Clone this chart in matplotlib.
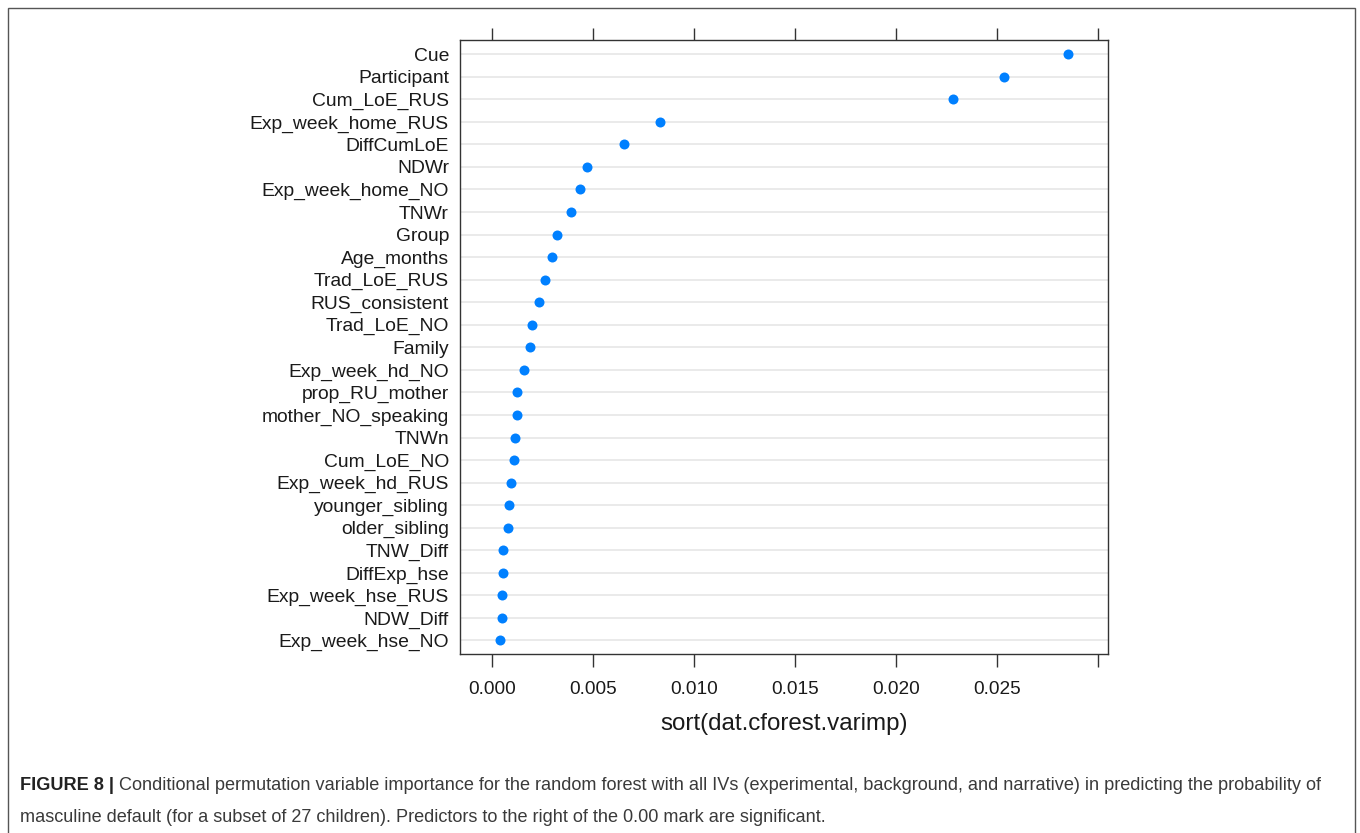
import matplotlib
matplotlib.use("Agg")
import matplotlib.pyplot as plt
from matplotlib.patches import Rectangle

plt.rcParams['font.family'] = ['Liberation Sans', 'DejaVu Sans']

variables = ["Cue", "Participant", "Cum_LoE_RUS", "Exp_week_home_RUS", "DiffCumLoE",
             "NDWr", "Exp_week_home_NO", "TNWr", "Group", "Age_months",
             "Trad_LoE_RUS", "RUS_consistent", "Trad_LoE_NO", "Family", "Exp_week_hd_NO",
             "prop_RU_mother", "mother_NO_speaking", "TNWn", "Cum_LoE_NO", "Exp_week_hd_RUS",
             "younger_sibling", "older_sibling", "TNW_Diff", "DiffExp_hse", "Exp_week_hse_RUS",
             "NDW_Diff", "Exp_week_hse_NO"]
importance = [0.02855, 0.02536, 0.02286, 0.00833, 0.00656,
              0.00472, 0.00439, 0.00392, 0.00321, 0.00297,
              0.00266, 0.00234, 0.00200, 0.00192, 0.00160,
              0.00126, 0.00125, 0.00114, 0.00112, 0.00096,
              0.00087, 0.00082, 0.00057, 0.00054, 0.00052,
              0.00052, 0.00041]
xticks = [0.000, 0.005, 0.010, 0.015, 0.020, 0.025, 0.030]
xticklabels = ["0.000", "0.005", "0.010", "0.015", "0.020", "0.025", ""]
xlabel = "sort(dat.cforest.varimp)"
caption_bold = "FIGURE 8 | "
caption_line1 = ("Conditional permutation variable importance for the random forest with all IVs "
                 "(experimental, background, and narrative) in predicting the probability of")
caption_line2 = ("masculine default (for a subset of 27 children). Predictors to the right of the "
                 "0.00 mark are significant.")

W, H = 1360, 833
fig = plt.figure(figsize=(W / 100, H / 100), dpi=100)
fig.patch.set_facecolor("white")

# outer frame
fig.add_artist(Rectangle((7.5 / W, -0.02), (1355 - 7.5) / W, 1 - 8 / H + 0.02,
                         transform=fig.transFigure, fill=False,
                         edgecolor="#555555", linewidth=1.0, clip_on=False))

L, R, T, B = 460, 1108, 40, 654
ax = fig.add_axes([L / W, 1 - B / H, (R - L) / W, (B - T) / H])

ypos = list(range(len(variables)))
for y in ypos:
    ax.axhline(y, color="#e8e8e8", linewidth=1.3, zorder=1)
ax.plot(importance, ypos, linestyle="none", marker="o", markersize=7.2,
        color="#0080ff", markeredgewidth=0, zorder=3)

ax.set_xlim(-0.00157, 0.03051)
ax.set_ylim(26.6, -0.63)
ax.set_yticks(ypos)
ax.set_yticklabels(variables, fontsize=13.9, color="#1a1a1a")
ax.tick_params(axis="y", length=0, pad=8)
ax.set_xticks(xticks)
ax.set_xticklabels(xticklabels, fontsize=13.7, color="#1a1a1a")
ax.tick_params(axis="x", direction="out", length=9, width=1.0, color="#333333",
               top=True, labeltop=False, pad=10.5)
ax.set_xlabel(xlabel, fontsize=17.4, color="#1a1a1a", labelpad=10.5)
for s in ax.spines.values():
    s.set_color("#333333")
    s.set_linewidth(1.0)

# caption
fig.canvas.draw()
renderer = fig.canvas.get_renderer()
x0 = 20 / W
cap_fs = 13.05
y1 = 1 - 785 / H
y2 = 1 - 818 / H
tb = fig.text(x0, y1, caption_bold, fontsize=cap_fs, fontweight="bold", color="#222222",
              va="center", ha="left")
bb = tb.get_window_extent(renderer)
tr = fig.text(bb.x1 / W, y1, caption_line1, fontsize=cap_fs, color="#3a3a3a",
              va="center", ha="left")
fig.text(x0, y2, caption_line2, fontsize=cap_fs, color="#3a3a3a", va="center", ha="left")

fig.savefig("out.png", dpi=100, facecolor="white")
